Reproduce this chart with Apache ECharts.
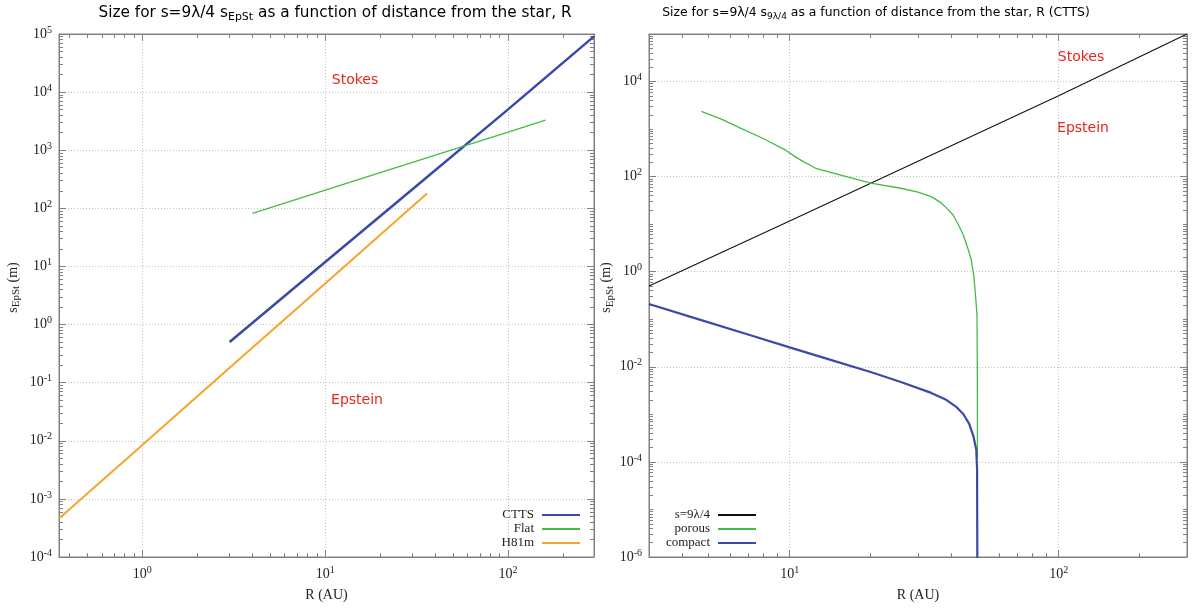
<!DOCTYPE html>
<html><head><meta charset="utf-8">
<script src="https://cdn.jsdelivr.net/npm/echarts@6/dist/echarts.min.js"></script>
<style>html,body{margin:0;padding:0;background:#fff}#c{width:1200px;height:610px}</style>
</head><body><div id="c"></div>
<script>
// ---------- Left panel data ----------
const cttsR = [3, 10, 30, 100, 295];
const cttsS = [0.5, 11.9, 213, 5050, 91000];
const flatR = [4, 10, 30, 100, 160];
const flatS = [82, 205, 615, 2050, 3300];
const h81mR = [0.35, 1, 3, 10, 36];
const h81mS = [4.6e-4, 8.5e-3, 0.18, 5.1, 180];

// ---------- Right panel data ----------
const lineR = [3, 10, 30, 100, 300];
const lineS = [0.5, 11.6, 210, 5000, 100000];
const porousR = [4.7, 5.6, 6.56, 7.9, 9.67, 10.4, 11, 12.5, 15.5, 20, 25.9, 30, 33.6, 36.6, 38.6, 40.5, 42.5, 44.2, 45.9, 47.3, 48.4, 48.9, 49.4, 49.7, 49.85, 49.9];
const porousS = [2350, 1600, 1050, 650, 360, 270, 222, 150, 107, 73, 57, 47, 38, 28, 21, 15.6, 9.5, 5.9, 3.2, 1.8, 0.8, 0.41, 0.2, 0.12, 0.01, 1.2e-4];
const compactR = [3, 4.66, 7.15, 10, 14.2, 20, 25.9, 33.6, 38.2, 41.6, 44.2, 46.5, 48.2, 49.4, 49.75, 49.9];
const compactS = [0.21, 0.097, 0.046, 0.0256, 0.014, 0.0078, 0.0048, 0.00283, 0.00202, 0.00144, 0.00102, 6.3e-4, 3.5e-4, 1.8e-4, 6.8e-5, 1e-7];

// ---------- Tick labels ----------
const leftXTicks = [1, 10, 100];
const leftYTicks = [1e-4, 1e-3, 1e-2, 1e-1, 1, 10, 100, 1e3, 1e4, 1e5];
const rightXTicks = [10, 100];
const rightYTicks = [1e-6, 1e-4, 1e-2, 1, 100, 1e4];

const leftXRange = [0.35, 295];
const leftYRange = [1e-4, 1e5];
const rightXRange = [3, 300];
const rightYRange = [1e-6, 1e5];

function minorVals(lo, hi) {
  const out = [];
  for (let e = -8; e <= 6; e++) {
    for (let k = 1; k <= 9; k++) {
      const v = k * Math.pow(10, e);
      if (v > lo * 1.0001 && v < hi * 0.9999) out.push(+v.toPrecision(6));
    }
  }
  return out;
}

const pairs = (xs, ys) => xs.map((x, i) => [x, ys[i]]);

const AX = '#808080';
const SERIF = '"Liberation Serif","Times New Roman",serif';
const SANS = '"DejaVu Sans",Verdana,sans-serif';

const expRich = {
  b: { fontFamily: SERIF, fontSize: 14, color: '#222', lineHeight: 14, verticalAlign: 'bottom' },
  s: { fontFamily: SERIF, fontSize: 10, color: '#222', lineHeight: 10, padding: [0, 0, 6, 0], verticalAlign: 'bottom' }
};
function expFormatter(ticks) {
  return function (v) {
    const lv = Math.log10(v);
    for (const t of ticks) {
      if (Math.abs(lv - Math.log10(t)) < 1e-6) {
        return '{b|10}{s|' + Math.round(Math.log10(t)) + '}';
      }
    }
    return '';
  };
}

const yNameRich = {
  p: { fontFamily: SERIF, fontSize: 14, lineHeight: 14, width: 16, verticalAlign: 'top' },
  a: { fontFamily: SERIF, fontSize: 14, color: '#222', lineHeight: 14, verticalAlign: 'top' },
  u: { fontFamily: SERIF, fontSize: 11, color: '#222', lineHeight: 11, padding: [5, 0, 0, 0], verticalAlign: 'top' }
};

function axesFor(dim, grid, range, ticks, name, nameGap, interval, mainPos, mirrorPos) {
  const common = { type: 'log', logBase: 10, gridIndex: grid, min: range[0], max: range[1] };
  const main = Object.assign({}, common, {
    position: mainPos,
    axisLine: { show: true, onZero: false, lineStyle: { color: AX, width: 1 } },
    axisTick: { show: true, inside: true, length: 7, lineStyle: { color: AX } },
    axisLabel: { show: true, formatter: expFormatter(ticks), rich: expRich, margin: dim === 'x' ? 10 : 7, color: '#222', showMinLabel: true, showMaxLabel: true },
    splitLine: { show: true, lineStyle: { color: '#c4c4c4', type: [1, 2], width: 1 } },
    minorTick: { show: false },
    name: name,
    nameLocation: 'middle',
    nameGap: nameGap,
    nameRotate: dim === 'y' ? 90 : 0,
    nameTextStyle: dim === 'y' ? { rich: yNameRich } : { fontFamily: SERIF, fontSize: 14, color: '#222' }
  });
  if (interval) main.interval = interval;
  const minor = Object.assign({}, common, {
    position: mainPos,
    axisLine: { show: false, onZero: false },
    axisTick: { show: true, inside: true, length: 4, lineStyle: { color: AX }, customValues: minorVals(range[0], range[1]) },
    axisLabel: { show: false },
    splitLine: { show: false }
  });
  const mirror = Object.assign({}, common, {
    position: mirrorPos,
    axisLine: { show: true, onZero: false, lineStyle: { color: AX, width: 1 } },
    axisTick: { show: true, inside: true, length: 7, lineStyle: { color: AX } },
    axisLabel: { show: false },
    splitLine: { show: false }
  });
  if (interval) mirror.interval = interval;
  const mirrorMinor = Object.assign({}, minor, { position: mirrorPos });
  return [main, minor, mirror, mirrorMinor];
}

const Y_NAME = '{p| }{a|s}{u|EpSt}{a| (m)}';
const xAxes = [].concat(
  axesFor('x', 0, leftXRange, leftXTicks, 'R (AU)', 31, null, 'bottom', 'top'),
  axesFor('x', 1, rightXRange, rightXTicks, 'R (AU)', 31, null, 'bottom', 'top')
);
const yAxes = [].concat(
  axesFor('y', 0, leftYRange, leftYTicks, Y_NAME, 39, null, 'left', 'right'),
  axesFor('y', 1, rightYRange, rightYTicks, Y_NAME, 33, 2, 'left', 'right')
);

const BLUE = '#3a4aa6', GREEN = '#45bb45', ORANGE = '#f6a52b', RED = '#e8261e';

function ser(name, xs, ys, color, width, xi, yi) {
  return {
    name: name, type: 'line', xAxisIndex: xi, yAxisIndex: yi,
    data: pairs(xs, ys), symbol: 'none', showSymbol: false, clip: true,
    lineStyle: { color: color, width: width }, itemStyle: { color: color },
    animation: false
  };
}

const legendCommon = {
  orient: 'vertical', align: 'right', itemWidth: 38, itemHeight: 2, itemGap: 0,
  icon: 'rect',
  top: 508, padding: 0,
  textStyle: { fontFamily: SERIF, fontSize: 13, color: '#222', lineHeight: 14, padding: [0, 3, 0, 0] }
};

function titleRich(fs) {
  return {
    t: { fontFamily: SANS, fontSize: fs, color: '#333', lineHeight: fs + 1, verticalAlign: 'top' },
    u: { fontFamily: SANS, fontSize: Math.round(fs * 0.75), color: '#333', lineHeight: Math.round(fs * 0.75), padding: [Math.round(fs * 0.4), 0, 0, 0], verticalAlign: 'top' }
  };
}

function label(text, x, y) {
  return { type: 'text', x: x, y: y, style: { text: text, fill: RED, font: '14px ' + SANS, textAlign: 'center', textVerticalAlign: 'middle' } };
}

const option = {
  animation: false,
  backgroundColor: '#fff',
  grid: [
    { left: 59, right: 606, top: 34, bottom: 53, show: true, borderColor: AX, borderWidth: 1, backgroundColor: 'transparent', containLabel: false, outerBoundsMode: 'none' },
    { left: 649, right: 13, top: 34, bottom: 53, show: true, borderColor: AX, borderWidth: 1, backgroundColor: 'transparent', containLabel: false, outerBoundsMode: 'none' }
  ],
  xAxis: xAxes,
  yAxis: yAxes,
  legend: [
    Object.assign({}, legendCommon, { right: 620, data: ['CTTS', 'Flat', 'H81m'] }),
    Object.assign({}, legendCommon, { right: 444, data: ['s=9λ/4', 'porous', 'compact'] })
  ],
  graphic: [
    { type: 'text', x: 335, y: 6, style: { text: '{t|Size for s=9λ/4 s}{u|EpSt}{t| as a function of distance from the star, R}', rich: titleRich(15.3), textAlign: 'center' } },
    { type: 'text', x: 876, y: 7, style: { text: '{t|Size for s=9λ/4 s}{u|9λ/4}{t| as a function of distance from the star, R (CTTS)}', rich: titleRich(12.4), textAlign: 'center' } },
    label('Stokes', 355, 80),
    label('Epstein', 357, 400),
    label('Stokes', 1081, 57),
    label('Epstein', 1083, 128)
  ],
  series: [
    ser('CTTS', cttsR, cttsS, BLUE, 2.5, 0, 0),
    ser('Flat', flatR, flatS, GREEN, 1.3, 0, 0),
    ser('H81m', h81mR, h81mS, ORANGE, 2, 0, 0),
    ser('s=9λ/4', lineR, lineS, '#111', 1.1, 4, 4),
    ser('porous', porousR, porousS, GREEN, 1.3, 4, 4),
    ser('compact', compactR, compactS, BLUE, 2.2, 4, 4)
  ]
};

const chart = echarts.init(document.getElementById('c'), null, { renderer: 'canvas' });
chart.setOption(option);
</script>
</body></html>
